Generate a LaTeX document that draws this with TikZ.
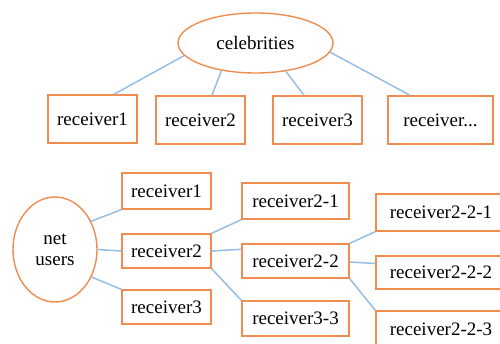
\documentclass[tikz,border=0pt]{standalone}
\usepackage{fontspec}
\setmainfont{Liberation Serif}
\newfontfamily\tnr{Liberation Serif}
\usetikzlibrary{shapes.geometric,calc}
\definecolor{boxorange}{RGB}{240,140,80}
\definecolor{linkblue}{RGB}{150,190,228}
\begin{document}
\begin{tikzpicture}[x=1pt,y=-1pt,
  every node/.style={font=\tnr\fontsize{19}{21}\selectfont, inner sep=0pt},
  rbox/.style={draw=boxorange, line width=1.4pt, rectangle, fill=white},
  oval/.style={draw=boxorange, line width=1.4pt, ellipse, fill=white, align=center},
  link/.style={draw=linkblue, line width=1.5pt}]
\useasboundingbox (0,0) rectangle (500,343);
% top tree
\node[oval, minimum width=155, minimum height=60] (ce) at (255.5,43) {celebrities};
\node[rbox, minimum width=89, minimum height=48] (t1) at (92.5,119) {receiver1};
\node[rbox, minimum width=89, minimum height=48] (t2) at (200.5,120) {receiver2};
\node[rbox, minimum width=89, minimum height=48] (t3) at (317.5,120) {receiver3};
\node[rbox, minimum width=105, minimum height=48] (t4) at (440.5,120) {receiver...};
\draw[link] (ce.190) -- ($(t1.north)+(21.5,0)$);
\draw[link] (ce.219) -- ($(t2.north)+(11.5,0)$);
\draw[link] (ce.317) -- ($(t3.north)+(-13.5,0)$);
\draw[link] (ce.353) -- ($(t4.north)+(-30.5,0)$);
% bottom tree
\node[oval, minimum width=84, minimum height=105] (nu) at (55,249.5) {net\\users};
\node[rbox, minimum width=89, minimum height=36] (b1) at (166.5,191) {receiver1};
\node[rbox, minimum width=89, minimum height=34] (b2) at (166.5,251) {receiver2};
\node[rbox, minimum width=89, minimum height=34] (b3) at (166.5,307) {receiver3};
\node[rbox, minimum width=107, minimum height=36] (c1) at (295.5,201) {receiver2-1};
\node[rbox, minimum width=107, minimum height=34] (c2) at (295.5,261) {receiver2-2};
\node[rbox, minimum width=107, minimum height=35] (c3) at (295.5,318.5) {receiver3-3};
\node[rbox, minimum width=130, minimum height=37] (d1) at (441,212.5) {receiver2-2-1};
\node[rbox, minimum width=130, minimum height=33] (d2) at (441,272.5) {receiver2-2-2};
\node[rbox, minimum width=130, minimum height=37] (d3) at (441,329.5) {receiver2-2-3};
\draw[link] (nu.38) -- (b1.south west);
\draw[link] (nu.east) -- (b2.west);
\draw[link] (nu.323) -- (b3.north west);
\draw[link] (b2.north east) -- (c1.south west);
\draw[link] (b2.east) -- ($(c2.north west)+(0,6)$);
\draw[link] (b2.south east) -- (c3.north west);
\draw[link] (c2.north east) -- (d1.south west);
\draw[link] ($(c2.east)+(0,1)$) -- ($(d2.west)+(0,-9)$);
\draw[link] (c2.south east) -- (d3.north west);
\end{tikzpicture}
\end{document}
